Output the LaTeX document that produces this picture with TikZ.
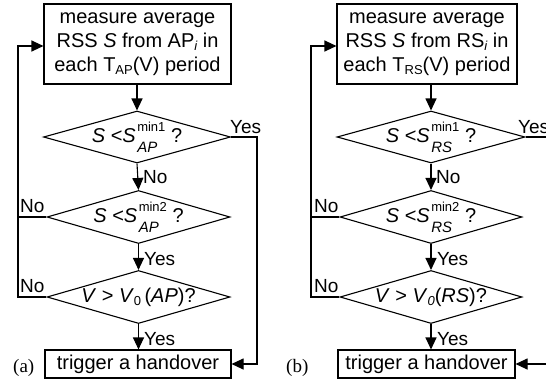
\documentclass[tikz,border=0pt]{standalone}
\usepackage{fontspec}
\setmainfont{Liberation Sans}
\newfontfamily\capfont{Liberation Serif}
\usetikzlibrary{shapes.geometric,arrows.meta}
\newcommand\subsup[2]{\hspace{1.5pt}\begin{tabular}[c]{@{}l@{}}{\fontsize{13}{13}\selectfont #1}\\[-3pt]{\fontsize{15}{15}\selectfont\itshape #2}\end{tabular}}
\newcommand\lowsub[1]{\raisebox{-0.18em}{\fontsize{13}{13}\selectfont #1}}
\begin{document}
\begin{tikzpicture}[x=1pt,y=-1pt,
  every node/.style={font=\fontsize{20}{24}\selectfont},
  boxnode/.style={draw, line width=1.1pt, rectangle, align=center, inner sep=0pt},
  dianode/.style={draw, line width=1.1pt, diamond, inner sep=0pt},
  lbl/.style={inner sep=0pt, font=\fontsize{19}{19}\selectfont},
  arr/.style={line width=1.1pt, -{Triangle[length=12pt,width=11pt]}},
  ln/.style={line width=1.1pt}]
\useasboundingbox (0,0) rectangle (546,380);
\clip (0,0) rectangle (546,380);
% ---------- panel (a) ----------
\node[boxnode, minimum width=187pt, minimum height=80pt] (ba) at (137.5,44)
  {measure average\\ RSS \textit{S} from AP\lowsub{\itshape i} in\\ each T\lowsub{AP}(V) period};
\node[dianode, minimum width=187pt, minimum height=52pt] (da1) at (137,137) {};
\node[inner sep=0pt] at (da1) {\textit{S} <\textit{S}\subsup{min1}{AP} ?};
\node[dianode, minimum width=183pt, minimum height=53pt] (da2) at (138.5,217) {};
\node[inner sep=0pt] at (da2) {\textit{S} <\textit{S}\subsup{min2}{AP} ?};
\node[dianode, minimum width=183pt, minimum height=53pt] (da3) at (138.5,297) {};
\node[inner sep=0pt] at (da3) {\textit{V} > \textit{V}\lowsub{0}\,(\textit{AP})?};
\node[boxnode, minimum width=186pt, minimum height=28pt] (ta) at (138,364) {trigger a handover};
\node[inner sep=0pt, anchor=base west, font=\capfont\fontsize{19}{19}\selectfont] (capa) at (13,372) {(a)};
\coordinate (fa) at (18,46);
\coordinate (ya) at (257,137);
\draw[arr] (ba.south -| da1.north) -- (da1.north);
\draw[arr] (da1.south) -- (da2.north);
\draw[arr] (da2.south) -- (da3.north);
\draw[arr] (da3.south) -- (da3.south |- ta.north);
\draw[arr] (da3.west) -| (fa) -- (fa -| ba.west);
\draw[ln] (da2.west) -- (da2.west -| fa);
\draw[arr] (da1.east) -- (ya) |- (ta.east);
\node[lbl, anchor=base west] at (230,133) {Yes};
\node[lbl, anchor=base west] at (143,183) {No};
\node[lbl, anchor=base west] at (20,212) {No};
\node[lbl, anchor=base west] at (144,265) {Yes};
\node[lbl, anchor=base west] at (20,292) {No};
\node[lbl, anchor=base west] at (144,345) {Yes};
% ---------- panel (b) ----------
\node[boxnode, minimum width=180pt, minimum height=80pt] (bb) at (427,44)
  {measure average\\ RSS \textit{S} from RS\lowsub{\itshape i} in\\ each T\lowsub{RS}(V) period};
\node[dianode, minimum width=188pt, minimum height=52pt] (db1) at (431,137) {};
\node[inner sep=0pt] at (db1) {\textit{S} <\textit{S}\subsup{min1}{RS} ?};
\node[dianode, minimum width=182pt, minimum height=53pt] (db2) at (431,217) {};
\node[inner sep=0pt] at (db2) {\textit{S} <\textit{S}\subsup{min2}{RS} ?};
\node[dianode, minimum width=182pt, minimum height=53pt] (db3) at (431,297) {};
\node[inner sep=0pt] at (db3) {\textit{V} > \textit{V}\lowsub{\itshape 0}(\textit{RS})?};
\node[boxnode, minimum width=177pt, minimum height=28pt] (tb) at (426.5,364) {trigger a handover};
\node[inner sep=0pt, anchor=base west, font=\capfont\fontsize{19}{19}\selectfont] (capb) at (286,372) {(b)};
\coordinate (fb) at (311,46);
\coordinate (yb) at (556,137);
\draw[arr] (bb.south -| db1.north) -- (db1.north);
\draw[arr] (db1.south) -- (db2.north);
\draw[arr] (db2.south) -- (db3.north);
\draw[arr] (db3.south) -- (db3.south |- tb.north);
\draw[arr] (db3.west) -| (fb) -- (fb -| bb.west);
\draw[ln] (db2.west) -- (db2.west -| fb);
\draw[arr] (db1.east) -- (yb) |- (tb.east);
\node[lbl, anchor=base west] at (518,133) {Yes};
\node[lbl, anchor=base west] at (436,183) {No};
\node[lbl, anchor=base west] at (314,212) {No};
\node[lbl, anchor=base west] at (437,265) {Yes};
\node[lbl, anchor=base west] at (314,292) {No};
\node[lbl, anchor=base west] at (437,345) {Yes};
\end{tikzpicture}
\end{document}
